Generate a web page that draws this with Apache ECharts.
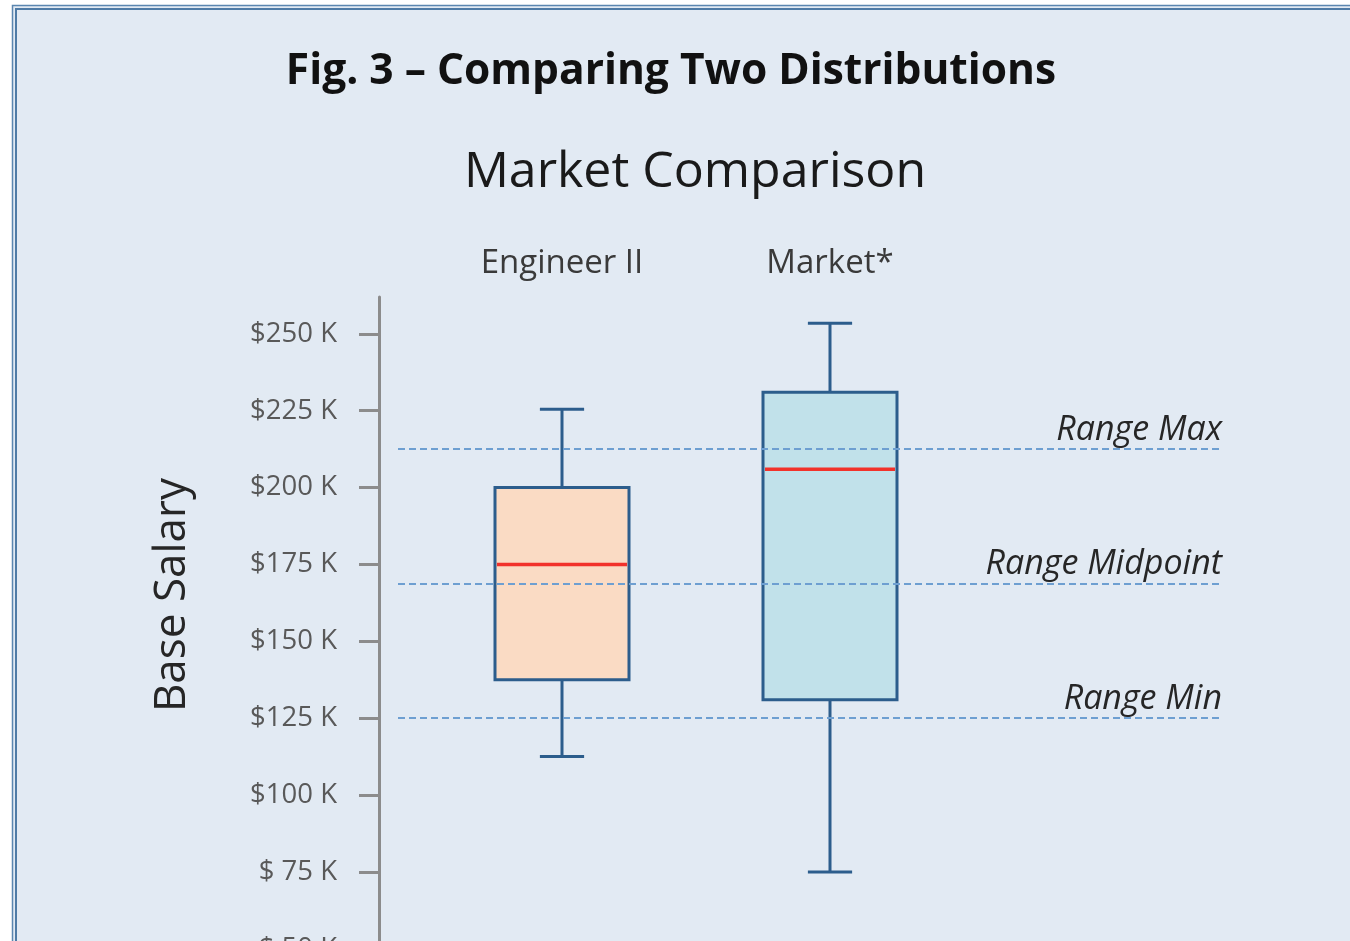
<!DOCTYPE html>
<html>
<head>
<meta charset="utf-8">
<script src="https://cdn.jsdelivr.net/npm/echarts@6/dist/echarts.min.js"></script>
<style>
  html, body { margin: 0; padding: 0; overflow: hidden; background: #ffffff; }
  #chart { width: 1350px; height: 1100px; }
</style>
</head>
<body>
<div id="chart"></div>
<script>
// Salary distributions in $K: [whisker low, Q1, median, Q3, whisker high]
const categories = ['Engineer II', 'Market*'];
const engineerStats = [112.5, 137.5, 175, 200, 225.5];
const marketStats = [75, 131, 206, 231, 253.5];
const boxFills = ['#FADBC4', '#C1E1EA'];

// Salary range reference levels in $K
const rangeNames = ['Range Max', 'Range Midpoint', 'Range Min'];
const rangeValues = [212.5, 168.75, 125];

// Tick values on the salary axis
const yTicks = [25, 50, 75, 100, 125, 150, 175, 200, 225, 250];

const FONT = '"Open Sans", Lato, sans-serif';
const Y_MIN = 25, Y_MAX = 262;
const PX_PER_K = 3.0743;
const BOX_STROKE = '#2C5D8C';

const chart = echarts.init(document.getElementById('chart'), null, { renderer: 'canvas' });

const boxData = [engineerStats, marketStats].map((s, i) => [i].concat(s));

function renderBox(params, api) {
  const idx = api.value(0);
  const low = api.coord([idx, api.value(1)]);
  const q1 = api.coord([idx, api.value(2)]);
  const med = api.coord([idx, api.value(3)]);
  const q3 = api.coord([idx, api.value(4)]);
  const high = api.coord([idx, api.value(5)]);
  const band = api.size([1, 0])[0];
  const bw = band * 0.5;
  const cap = band * 0.165;
  const cx = low[0];
  const ls = { stroke: BOX_STROKE, lineWidth: 3 };
  return {
    type: 'group',
    children: [
      { type: 'line', shape: { x1: cx, y1: high[1], x2: cx, y2: q3[1] }, style: ls },
      { type: 'line', shape: { x1: cx, y1: q1[1], x2: cx, y2: low[1] }, style: ls },
      { type: 'line', shape: { x1: cx - cap / 2, y1: high[1], x2: cx + cap / 2, y2: high[1] }, style: ls },
      { type: 'line', shape: { x1: cx - cap / 2, y1: low[1], x2: cx + cap / 2, y2: low[1] }, style: ls },
      {
        type: 'rect',
        shape: { x: cx - bw / 2, y: q3[1], width: bw, height: q1[1] - q3[1] },
        style: { fill: boxFills[params.dataIndex], stroke: BOX_STROKE, lineWidth: 3 }
      },
      {
        type: 'line',
        shape: { x1: cx - bw / 2 + 2, y1: med[1], x2: cx + bw / 2 - 2, y2: med[1] },
        style: { stroke: '#F2322B', lineWidth: 3.5 }
      }
    ]
  };
}

const fmtK = v => '$' + (v < 100 ? ' ' + v : v) + ' K';

const option = {
  backgroundColor: '#ffffff',
  animation: false,
  graphic: [
    {
      type: 'rect', z: -10,
      shape: { x: 12.5, y: 5.5, width: 1400, height: 1200 },
      style: { fill: '#E2EAF3', stroke: '#5B86B0', lineWidth: 1.5 }
    },
    {
      type: 'rect', z: -9,
      shape: { x: 16, y: 9, width: 1400, height: 1200 },
      style: { fill: 'transparent', stroke: '#4F7BA6', lineWidth: 2 }
    },
    {
      type: 'text',
      x: 172, y: 595, rotation: Math.PI / 2,
      style: {
        text: 'Base Salary', font: '44px ' + FONT, fill: '#262626',
        align: 'center', verticalAlign: 'middle'
      }
    }
  ],
  title: [
    {
      text: 'Fig. 3 – Comparing Two Distributions',
      left: 666, top: 45, textAlign: 'center',
      textStyle: { fontFamily: FONT, fontWeight: 'bold', fontSize: 42.5, color: '#111111' }
    },
    {
      text: 'Market Comparison',
      left: 690, top: 143, textAlign: 'center',
      textStyle: { fontFamily: FONT, fontWeight: 'normal', fontSize: 50, color: '#1a1a1a' }
    }
  ],
  grid: [
    { left: 428, right: 386, top: 297, height: (Y_MAX - Y_MIN) * PX_PER_K },
    { left: 398, right: 128, top: 297, height: (Y_MAX - Y_MIN) * PX_PER_K }
  ],
  xAxis: [
    {
      type: 'category', gridIndex: 0, position: 'top',
      data: categories,
      axisLine: { show: false }, axisTick: { show: false },
      axisLabel: { fontFamily: FONT, fontSize: 33, color: '#3a3a3a', margin: 17 },
      splitLine: { show: false }
    },
    { type: 'value', gridIndex: 1, min: 0, max: 1, show: false }
  ],
  yAxis: [
    {
      type: 'value', gridIndex: 0, min: Y_MIN, max: Y_MAX, offset: 49,
      axisLine: { show: true, lineStyle: { color: '#8C8C8C', width: 3 } },
      axisTick: { show: true, length: 20, lineStyle: { color: '#8C8C8C', width: 3 }, customValues: yTicks },
      axisLabel: {
        fontFamily: FONT, fontSize: 27.5, color: '#595959', margin: 42,
        customValues: yTicks, formatter: fmtK
      },
      splitLine: { show: false }
    },
    { type: 'value', gridIndex: 1, min: Y_MIN, max: Y_MAX, show: false }
  ],
  series: [
    {
      type: 'custom', xAxisIndex: 0, yAxisIndex: 0,
      renderItem: renderBox,
      encode: { x: 0, y: [1, 2, 3, 4, 5] },
      data: boxData, z: 2
    },
    {
      type: 'line', xAxisIndex: 1, yAxisIndex: 1, z: 5,
      data: [],
      markLine: {
        silent: true, symbol: 'none',
        lineStyle: { color: '#6E9FD1', width: 2, type: [7, 4] },
        label: {
          show: true, position: 'insideEndTop', distance: [0, 2],
          fontFamily: FONT, fontStyle: 'italic', fontSize: 34, color: '#262626',
          formatter: p => p.name
        },
        data: rangeNames.map((n, i) => ({ name: n, yAxis: rangeValues[i] }))
      }
    }
  ]
};

chart.setOption(option);
</script>
</body>
</html>
